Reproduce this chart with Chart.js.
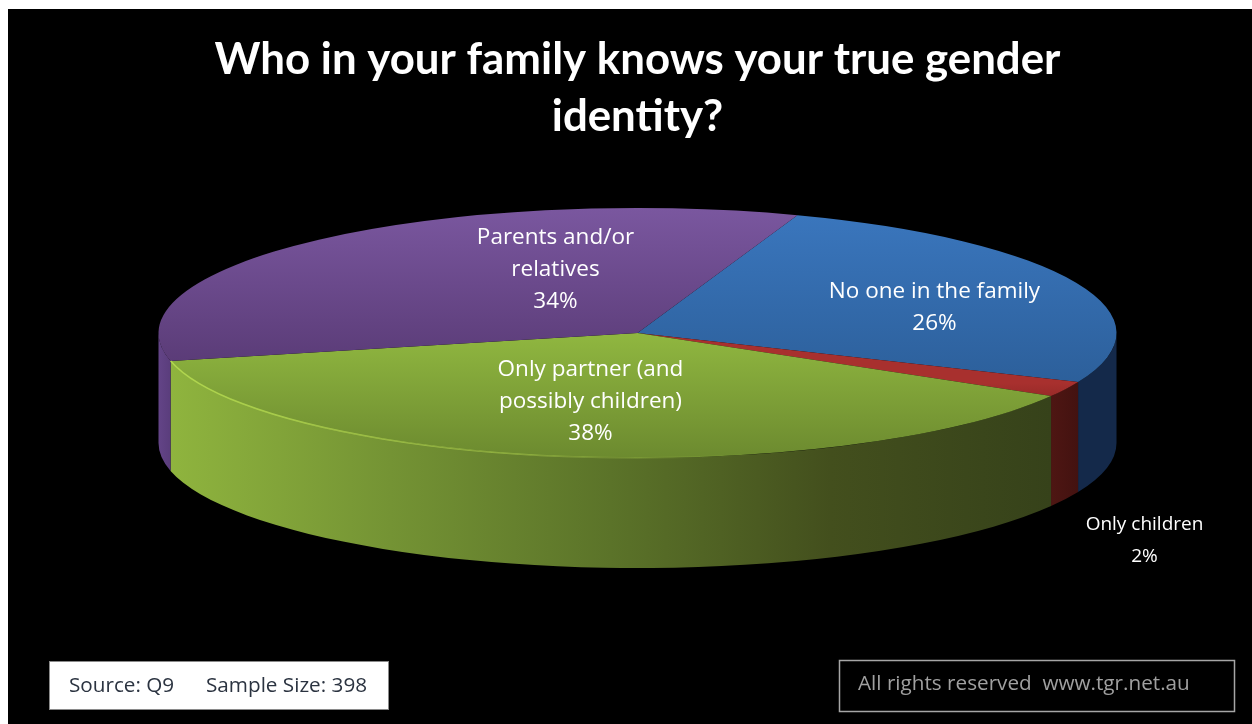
<!DOCTYPE html>
<html>
<head>
<meta charset="utf-8">
<title>Who in your family knows your true gender identity?</title>
<script src="https://cdn.jsdelivr.net/npm/chart.js@4"></script>
<style>
  html, body { margin: 0; padding: 0; background: #fff; overflow: hidden; }
  canvas { display: block; }
</style>
</head>
<body>
<canvas id="pieChart" width="1252" height="724"></canvas>
<script>
const titleLines = ["Who in your family knows your true gender", "identity?"];
const categories = ["No one in the family", "Only children", "Only partner (and possibly children)", "Parents and/or relatives"];
const shares = [26, 2, 38, 34];

// label text as broken in the original
const labelLines = [
  ["No one in the family", "26%"],
  ["Only children", "2%"],
  ["Only partner (and", "possibly children)", "38%"],
  ["Parents and/or", "relatives", "34%"],
];
// label centre, relative to the pie centre
const labelSpots = [[297, -25], [507, 208], [-47, 69], [-82, -63]];
const labelSizes = [22.5, 19, 22.5, 22.5];

// [light, dark, from, to] - top face gradient, from/to are fractions of radius
const topStyles = [
  ["#3a76bd", "#2c5f9a", -0.95, 0.42],
  ["#a8302e", "#962a28", 0.40, 0.52],
  ["#90b740", "#6c8a2f", 0.0, 1.0],
  ["#7a579f", "#5b3c78", -1.0, 0.22],
];
// wall colours, left to right, evenly spaced
const wallStyles = [
  ["#14294a", "#14294a"],
  ["#4e1613", "#431210"],
  ["#8fb43e", "#749334", "#5b7329", "#434f1d", "#36421a"],
  ["#634487", "#5a3d7c"],
];

const pieCy = 333;
const pieRadius = 479;
const tilt = 125 / 479;
const depth = 110;

function arcGeom(chart) {
  return chart.getDatasetMeta(0).data;
}

// the extruded side of the pie, read from the arcs the library laid out
function drawWalls(chart) {
  const ctx = chart.ctx;
  arcGeom(chart).forEach((arc, i) => {
    const r = arc.outerRadius;
    let a0 = arc.startAngle, a1 = arc.endAngle;
    while (a1 > 2 * Math.PI) { a0 -= 2 * Math.PI; a1 -= 2 * Math.PI; }
    a0 = Math.max(a0, 0);
    a1 = Math.min(a1, Math.PI);
    if (a1 <= a0) return;
    const ex = (t) => arc.x + r * Math.cos(t);
    const g = ctx.createLinearGradient(ex(a1), 0, ex(a0), 0);
    const stops = wallStyles[i];
    stops.forEach((c, n) => g.addColorStop(n / (stops.length - 1), c));
    ctx.save();
    ctx.fillStyle = g;
    ctx.beginPath();
    ctx.ellipse(arc.x, pieCy, r, r * tilt, 0, a0, a1);
    ctx.ellipse(arc.x, pieCy + depth, r, r * tilt, 0, a1, a0, true);
    ctx.closePath();
    ctx.fill();
    ctx.restore();
  });
}

const pie3d = {
  id: "pie3d",
  beforeDraw(chart) {
    const ctx = chart.ctx;
    ctx.save();
    ctx.fillStyle = "#000";
    ctx.fillRect(8, 9, chart.width - 8, chart.height - 9);
    ctx.restore();
  },
  beforeDatasetsDraw(chart) {
    drawWalls(chart);
    const ctx = chart.ctx;
    const cy = (chart.chartArea.top + chart.chartArea.bottom) / 2;
    ctx.save();
    ctx.translate(0, pieCy);
    ctx.scale(1, tilt);
    ctx.translate(0, -cy);
  },
  afterDatasetsDraw(chart) {
    const ctx = chart.ctx;
    ctx.restore();
    const arc = arcGeom(chart)[2];
    // pale rim along the front of the green slice
    const rim = ctx.createLinearGradient(170, 0, 760, 0);
    rim.addColorStop(0, "#b2d84f");
    rim.addColorStop(0.6, "rgba(170,205,75,0.6)");
    rim.addColorStop(1, "rgba(150,185,65,0)");
    ctx.save();
    ctx.strokeStyle = rim;
    ctx.lineWidth = 1.5;
    ctx.beginPath();
    ctx.ellipse(arc.x, pieCy, arc.outerRadius, arc.outerRadius * tilt, 0, arc.endAngle, arc.startAngle, true);
    ctx.stroke();
    ctx.restore();
  },
  afterDraw(chart) {
    const ctx = chart.ctx;
    const arc = arcGeom(chart)[0];
    ctx.save();
    ctx.textAlign = "center";
    ctx.textBaseline = "middle";
    ctx.fillStyle = "#fff";
    labelLines.forEach((lines, i) => {
      const x = arc.x + labelSpots[i][0];
      const y = pieCy + labelSpots[i][1];
      ctx.font = labelSizes[i] + "px 'Open Sans'";
      lines.forEach((line, n) => {
        ctx.fillText(line, x, y + (n - (lines.length - 1) / 2) * 32);
      });
    });

    // source box
    ctx.fillStyle = "#fff";
    ctx.strokeStyle = "#8a8a8a";
    ctx.lineWidth = 1;
    ctx.fillRect(49.5, 661.5, 339, 48);
    ctx.strokeRect(49.5, 661.5, 339, 48);
    ctx.fillStyle = "#2b3340";
    ctx.font = "20.7px 'Open Sans'";
    ctx.textAlign = "left";
    ctx.fillText("Source: Q9", 69, 686);
    ctx.fillText("Sample Size: 398", 206, 686);

    // rights box
    ctx.strokeStyle = "#a6a6a6";
    ctx.lineWidth = 1.5;
    ctx.strokeRect(839.5, 660.5, 395, 51);
    ctx.fillStyle = "#a0a0a0";
    ctx.fillText("All rights reserved  www.tgr.net.au", 858, 684);
    ctx.restore();
  },
};

new Chart(document.getElementById("pieChart"), {
  type: "pie",
  data: {
    labels: categories,
    datasets: [{
      data: shares,
      radius: pieRadius,
      borderWidth: 0,
      clip: false,
      backgroundColor(c) {
        const chart = c.chart;
        const st = topStyles[c.dataIndex];
        if (!chart.chartArea) return st[0];
        const cy = (chart.chartArea.top + chart.chartArea.bottom) / 2;
        const g = chart.ctx.createLinearGradient(0, cy + st[2] * pieRadius, 0, cy + st[3] * pieRadius);
        g.addColorStop(0, st[0]);
        g.addColorStop(1, st[1]);
        return g;
      },
    }],
  },
  options: {
    responsive: false,
    animation: false,
    rotation: 19.5,
    layout: { padding: { left: 23 } },
    plugins: {
      legend: { display: false },
      tooltip: { enabled: false },
      title: {
        display: true,
        text: titleLines,
        color: "#fff",
        font: { family: "Lato", weight: "bold", size: 43.8, lineHeight: 1.3 },
        padding: { top: 31, bottom: 10 },
      },
    },
  },
  plugins: [pie3d],
});
</script>
</body>
</html>
